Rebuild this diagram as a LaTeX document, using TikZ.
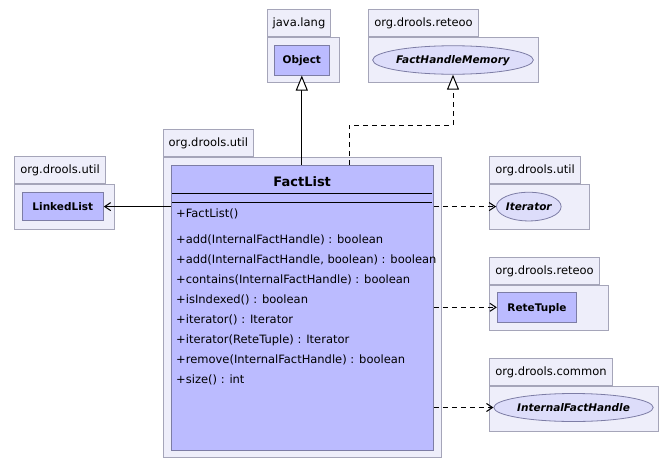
\documentclass[tikz,border=0pt]{standalone}
\usepackage{fontspec}
\setmainfont{DejaVu Sans}
\usepackage{tikz}
\usetikzlibrary{shapes.geometric,arrows.meta,positioning}
\usepackage{xcolor}

\definecolor{pkgfill}{RGB}{238,238,250}
\definecolor{pkgline}{RGB}{165,165,185}
\definecolor{classfill}{RGB}{187,187,255}
\definecolor{classline}{RGB}{125,125,165}
\definecolor{ifacefill}{RGB}{221,221,250}

\begin{document}
\begin{tikzpicture}[x=1pt, y=-1pt,
        pkgbody/.style={draw=pkgline, fill=pkgfill, line width=1pt, anchor=north west, inner sep=0pt},
        pkgtab/.style={draw=pkgline, fill=pkgfill, line width=1pt, anchor=south west, minimum height=27pt,
            inner xsep=5.5pt, inner ysep=0pt, text height=8pt, text depth=2pt, font=\fontsize{11.5}{13}\selectfont},
        classbox/.style={draw=classline, fill=classfill, line width=1pt, inner sep=0pt,
            text height=7.5pt, text depth=0pt, font=\fontsize{10.5}{12}\selectfont\bfseries},
        iface/.style={ellipse, draw=classline, fill=ifacefill, line width=0.8pt, inner sep=0pt,
            text height=7.5pt, text depth=0pt, font=\fontsize{10.5}{12}\selectfont\bfseries\itshape},
        member/.style={anchor=base west, inner sep=0pt, font=\fontsize{11.5}{13}\selectfont},
        inherit/.style={line width=1pt, -{Triangle[open, length=15pt, width=12pt, fill=white]}},
        dep/.style={line width=1pt, -{Straight Barb[length=6pt, width=8pt]}},
        dashline/.style={dash pattern=on 5pt off 4pt}]
    \useasboundingbox (0,0) rectangle (672,469);

    % packages
    \node[pkgbody, minimum width=72.6pt, minimum height=45pt] (langpkg) at (266.7,37) {};
    \node[pkgtab] (langtab) at (langpkg.north west) {java.lang};
    \node[pkgbody, minimum width=170pt, minimum height=45pt] (memorypkg) at (368.3,37) {};
    \node[pkgtab] (memorytab) at (memorypkg.north west) {org.drools.reteoo};
    \node[pkgbody, minimum width=278.3pt, minimum height=300pt] (utilpkg) at (162.7,157.3) {};
    \node[pkgtab] (utiltab) at (utilpkg.north west) {org.drools.util};
    \node[pkgbody, minimum width=100pt, minimum height=45pt] (listpkg) at (14.3,184) {};
    \node[pkgtab] (listtab) at (listpkg.north west) {org.drools.util};
    \node[pkgbody, minimum width=100pt, minimum height=45pt] (iterpkg) at (489.3,184) {};
    \node[pkgtab] (itertab) at (iterpkg.north west) {org.drools.util};
    \node[pkgbody, minimum width=119pt, minimum height=45pt] (tuplepkg) at (489.3,285) {};
    \node[pkgtab] (tupletab) at (tuplepkg.north west) {org.drools.reteoo};
    \node[pkgbody, minimum width=168.4pt, minimum height=45pt] (commonpkg) at (489.3,386) {};
    \node[pkgtab] (commontab) at (commonpkg.north west) {org.drools.common};

    % classes and interfaces
    \node[classbox, minimum width=55pt, minimum height=30pt] (object) at (301.8,60) {Object};
    \node[iface, minimum width=154pt, minimum height=28.5pt] (memory) at (453,60) {FactHandleMemory};
    \node[classbox, minimum width=81pt, minimum height=28.7pt] (linkedlist) at (62.8,206.6) {LinkedList};
    \node[iface, minimum width=62.3pt, minimum height=28.7pt] (iterator) at (528.8,206.6) {Iterator};
    \node[classbox, minimum width=79.4pt, minimum height=30pt] (retetuple) at (537,307.3) {ReteTuple};
    \node[iface, minimum width=151.6pt, minimum height=28pt] (handle) at (573.5,407.5) {InternalFactHandle};

    % FactList
    \node[classbox, minimum width=262.3pt, minimum height=285pt] (factlist) at (302.2,307.5) {};
    \node[anchor=base, inner sep=0pt, font=\fontsize{13}{14}\selectfont\bfseries] (title) at (302.2,186.5) {FactList};
    \draw[line width=1pt] (172,193.3) -- (432.3,193.3);
    \draw[line width=1pt] (172,202.3) -- (432.3,202.3);
    \node[member] (ctor) at (176,217.5) {+FactList()};
    \foreach \m [count=\i] in {{+add(InternalFactHandle) : boolean},
                               {+add(InternalFactHandle, boolean) : boolean},
                               {+contains(InternalFactHandle) : boolean},
                               {+isIndexed() : boolean},
                               {+iterator() : Iterator},
                               {+iterator(ReteTuple) : Iterator},
                               {+remove(InternalFactHandle) : boolean},
                               {+size() : int}}
        \node[member] (m\i) at (176,223+20.1*\i) {\m};

    % relations
    \coordinate (realstart) at (349.3,165);
    \draw[inherit] (object |- factlist.north) -- (object.south);
    \draw[inherit, dashline] (realstart) -- ++(0,-40) -| (memory.south);
    \draw[dep] (linkedlist -| factlist.west) -- (linkedlist.east);
    \draw[dep, dashline] (iterator -| factlist.east) -- (iterator.west);
    \draw[dep, dashline] (retetuple -| factlist.east) -- (retetuple.west);
    \draw[dep, dashline] (handle -| factlist.east) -- (handle.west);
\end{tikzpicture}
\end{document}
